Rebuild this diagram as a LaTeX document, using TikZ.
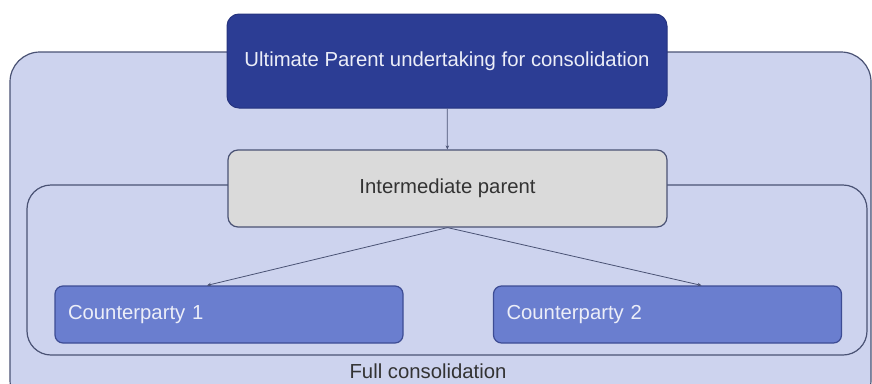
\documentclass[tikz,border=0pt]{standalone}
\usepackage{fontspec}
\setmainfont{Liberation Sans}
\usepackage{tikz}
\usetikzlibrary{arrows.meta, positioning, calc}
\definecolor{groupfill}{HTML}{CDD3EE}
\definecolor{groupline}{HTML}{4A5274}
\definecolor{topblue}{HTML}{2C3D94}
\definecolor{topline}{HTML}{26347F}
\definecolor{cpblue}{HTML}{6A7ECF}
\definecolor{cpline}{HTML}{3D4C94}
\definecolor{midgray}{HTML}{DADADA}
\definecolor{textgray}{HTML}{333333}
\definecolor{lighttext}{HTML}{ECEEF8}

\begin{document}
\begin{tikzpicture}[
  x=1pt, y=-1pt,
  group/.style={rectangle, draw=groupline, line width=1.2pt, fill=groupfill},
  topbox/.style={rectangle, rounded corners=12pt, draw=topline, line width=1pt,
                 fill=topblue, minimum width=440pt, minimum height=94pt,
                 align=center, font=\fontsize{20.3}{24}\selectfont\color{lighttext}},
  midbox/.style={rectangle, rounded corners=10pt, draw=groupline, line width=1.2pt,
                 fill=midgray, minimum width=439pt, minimum height=77pt,
                 align=center, font=\fontsize{20.3}{24}\selectfont\color{textgray}},
  cpbox/.style={rectangle, rounded corners=8pt, draw=cpline, line width=1.2pt,
                fill=cpblue, minimum width=348pt, minimum height=57pt,
                text width=322pt, align=left, font=\fontsize{20.3}{24}\selectfont\color{lighttext}},
  arrow/.style={-{Stealth[length=4pt, width=3.5pt]}, line width=0.8pt, color=groupline}
]
  \useasboundingbox (0,0) rectangle (872,383);
  \clip (0,0) rectangle (872,383);

  % containers
  \node[group, rounded corners=30pt, minimum width=861pt, minimum height=358pt] (full) at (440.5,231) {};
  \node[group, rounded corners=24pt, minimum width=840pt, minimum height=170pt] (inner) at (447,270) {};
  \node[font=\fontsize{20.3}{24}\selectfont\color{textgray}] (fulllabel) at (428,371) {Full consolidation};

  % entities
  \node[topbox] (ult) at (447,61) {Ultimate Parent undertaking for consolidation};
  \node[midbox] (inter) at (447.5,188.5) {Intermediate parent};
  \node[cpbox] (cp1) at (229,314.5) {Counterparty 1};
  \node[cpbox] (cp2) at (667.5,314.5) {Counterparty 2};

  \draw[arrow] (ult) -- (inter);
  \draw[arrow] (inter.south) -- ($(cp1.north)+(-22,0)$);
  \draw[arrow] (inter.south) -- ($(cp2.north)+(34,0)$);
\end{tikzpicture}
\end{document}
